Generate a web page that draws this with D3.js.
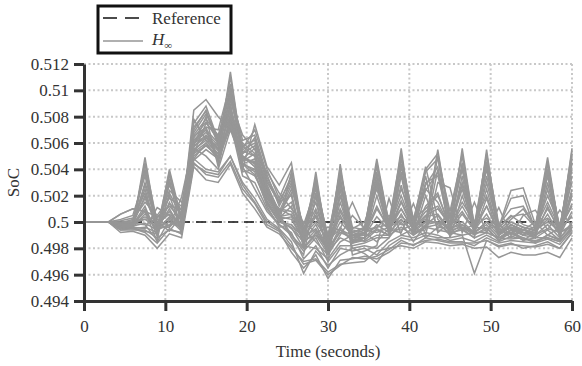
<!DOCTYPE html>
<html>
<head>
<meta charset="utf-8">
<script src="https://cdn.jsdelivr.net/npm/d3@7"></script>
<style>
body { margin: 0; background: #fff; }
svg text { font-family: "Liberation Serif", Tinos, "Nimbus Roman", "Noto Serif", "DejaVu Serif", FreeSerif, Georgia, serif; fill: #333; }
</style>
</head>
<body>
<div id="chart"></div>
<script>
// sample times (seconds)
const time = [0, 1.5, 3, 4.5, 6, 7.5, 9, 10.5, 12, 13.5, 15, 16.5, 18, 19.5, 21, 22.5, 24, 25.5, 27, 28.5,
	30, 31.5, 33, 34.5, 36, 37.5, 39, 40.5, 42, 43.5, 45, 46.5, 48, 49.5, 51, 52.5, 54, 55.5, 57, 58.5, 60];

// reference SoC
const refTime = [0, 60];
const refSoc = [0.5, 0.5];

// H-infinity runs: SoC deviation from 0.5, in units of 1e-4
const socBase = 0.5;
const run01 = [0,0,0, -8,-7,-10,-20,-9,-12, 42,32,30,44,22,10,-4,-9, -20,-30,-28,-38,-32,-31,-30,-22, -20,-18,-20,-15,-16,-18,-17,-20, -19,-27,-23,-25,-25,-23,-27,-12];
const run02 = [0,0,0, -6,-6,-6,-12,-6,-8, 45,36,34,46,25,14,-2,-7, -23,-35,-25,-43,-29,-28,-26,-28, -23,-16,-17,-14,-13,-15,-15,-18, -12,-16,-14,-15,-16,-13,-17,-6];
const run03 = [0,0,0, -5,-5,-4,-8,40,2, 48,40,38,50,30,18,2,-5, -15,-39,-22,-33,-25,-20,-24,-31, -18,-12,-14,-10,-12,-12,-10,-39, -14,-18,-16,-20,-18,-15,-20,-8];
const run04 = [0,0,0, 6,10,8,4,12,2, 85,93,80,70,60,52,38,22, 10,0,-8,-4,-6,-10,-8,-4, -2,4,-3,2,-1,4,-6,-2, 3,-4,24,26,-2,3,-5,4];
const run05 = [0,0,0, -4,-4,49,-5,10,-6, 60,65,55,114,50,42,20,10, 5,-5,5,-10,3,-8,-5,48, -2,10,-6,0,55,-3,8,-6, 12,-8,0,-4,-7,2,-9,56];
const run06 = [0,0,0, -3,-3,30,2,-3,19, 62,70,45,90,40,74,42,28, 45,-10,0,-14,-5,15,-6,-4, 5,-2,0,42,2,-6,-4,-8, 0,-6,-5,-10,-3,49,-8,-4];
const run07 = [0,0,0, -2,0,40,-3,28,8, 48,60,52,95,55,60,30,15, 20,-20,38,-22,44,-15,-12,30, -8,56,-10,20,-5,10,-5,-12, 55,-10,-2,-8,-12,30,-10,20];
const run08 = [0,0,0, -2,-1,-2,-14,33,-10, 58,80,42,80,38,40,25,5, -12,-25,20,-30,25,-20,-18,-20, -12,35,-8,-6,40,-10,56,-4, -5,-14,-8,-12,-15,-10,-14,35];
const run09 = [0,0,0, -1,2,15,5,18,12, 70,85,60,100,62,66,36,12, 30,-5,-15,-25,-10,5,-5,45, -6,-8,14,-10,30,26,-8,15, -8,11,-10,5,9,-6,9,-3];
const run10 = [0,0,0, 1,3,22,-6,-2,0, 52,75,65,85,58,50,24,2, -5,-15,30,-20,35,-25,-22,-18, 18,-10,-5,35,-8,0,40,-10, 45,-12,-6,-14,-8,40,-12,50];
const run11 = [0,0,0, -3,-4,-5,11,5,-3, 65,72,70,105,48,45,15,0, 38,-18,-20,-28,-15,-10,-15,-10, -10,48,0,-4,50,-12,20,-6, 30,-5,-12,-6,0,-10,-4,45];
const run12 = [0,0,0, 2,5,35,-2,24,15, 47,55,48,75,35,30,10,-2, -8,-28,-18,-35,-20,-22,-20,-25, -15,-10,-12,-8,-10,-14,-12,-15, -10,-15,-11,-13,-14,-12,-15,-4];
const run13 = [0,0,0, 6,10,8,-15,2,-7, 75,88,62,92,66,55,28,8, 15,-8,10,-12,20,-5,0,25, -4,25,3,10,20,-2,30,-2, 40,-4,5,-2,-5,20,-2,30];
const run14 = [0,0,0, -1,-2,44,0,-7,5, 78,62,58,110,52,58,22,6, -10,-22,-12,-30,-18,-18,-16,-12, -12,0,-15,-2,5,-8,-10,-8, -8,-12,-13,-12,-16,-10,-13,0];
const run15 = [0,0,0, -4,-5,-7,-9,36,-2, 56,50,40,70,45,38,12,-4, -2,-12,-5,-20,-8,-12,-8,-15, -5,-6,-2,-12,-4,-5,-2,-9, -6,-2,-10,-8,-10,-5,-8,-2];
const run16 = [0,0,0, 0,1,2,3,12,10, 60,68,58,88,44,48,20,5, 25,-2,25,-15,10,-8,-10,10, -4,20,-4,5,10,-2,15,0, 20,-6,2,10,-4,15,-5,12];
const run17 = [0,0,0, -6,-5,-8,-16,-5,-9, 44,38,36,50,28,15,0,-6, -18,-32,-29,-40,-33,-27,-28,-26, -21,-14,-18,-12,-14,-16,-16,-16, -14,-19,-17,-18,-19,-17,-20,-8];
const run18 = [0,0,0, -2,-3,10,-8,15,-4, 54,64,54,82,40,35,18,10, 8,-8,15,-16,30,-14,-8,35, -8,15,-6,25,15,-4,25,-6, 25,-8,-4,-6,-10,25,-8,25];
const run19 = [0,0,0, -3,-2,20,-4,-4,6, 50,58,50,78,42,25,8,-2, -10,-20,-8,-22,-12,-16,-12,-5, -10,-4,-10,-4,-6,-8,-6,-12, -8,-12,-8,-14,-12,-12,-15,-5];
const run20 = [0,0,0, -1,-1,4,-1,6,-1, 66,78,66,98,50,44,22,4, 2,-14,-10,-18,0,-10,-6,-8, -4,2,-8,0,0,-5,0,-8, 0,-10,-4,-10,-6,0,-6,5];
const run21 = [0,0,0, -2,-2,25,-7,20,-5, 62,72,48,88,46,52,26,8, 28,-12,22,-18,28,-10,-10,38, -6,42,-4,30,35,-4,45,-8, 35,-6,-4,-8,-8,35,-10,40];
const run22 = [0,0,0, -3,-1,38,-9,30,3, 57,66,56,96,52,64,32,14, 35,-6,30,-12,38,-4,-6,42, -2,50,2,38,48,8,50,-2, 50,-2,10,12,-4,44,-6,52];
const run23 = [0,0,0, -1,0,18,-3,8,-3, 53,60,47,72,44,40,18,3, 12,-16,8,-20,15,-12,-12,20, -8,28,-8,12,22,-6,28,-8, 18,-10,-2,-6,-10,12,-8,22];
const run24 = [0,0,0, -2,-2,12,-11,22,4, 64,76,62,84,48,56,28,6, 22,-18,32,-24,20,-16,-14,28, -10,38,-6,28,42,-8,35,-10, 42,-8,-8,-4,-12,38,-12,45];
const run25 = [0,0,0, -4,-3,45,-5,38,-1, 68,82,64,102,56,70,40,18, 40,-10,34,-16,40,-8,-4,44, 0,52,-2,40,52,4,52,-6, 52,-4,18,20,-6,46,-8,54];
const run26 = [0,0,0, -2,-4,6,-2,-4,8, 55,62,52,76,48,46,14,0, -4,-20,-10,-24,-6,-14,-14,-6, -10,6,-10,-2,0,-10,-4,-10, -4,-14,-6,-10,-12,-6,-14,-4];
const run27 = [0,0,0, -3,-3,-1,-6,3,-5, 58,64,56,80,50,42,16,2, 4,-14,-2,-20,5,-12,-10,4, -6,10,-6,4,6,-6,6,-6, 6,-10,-2,-6,-8,6,-10,8];
const run28 = [0,0,0, -2,-1,2,-4,0,-4, 52,58,50,74,44,36,14,0, -2,-16,-6,-22,-4,-14,-12,-2, -8,2,-8,-4,-2,-8,-2,-8, -2,-12,-6,-8,-10,-2,-12,-2];
const run29 = [0,0,0, -1,0,28,-2,14,7, 72,84,58,94,58,62,34,16, 32,-8,26,-10,32,-6,-8,32, -4,44,0,24,38,2,42,-4, 46,-4,4,6,-4,40,-4,48];
const run30 = [0,0,0, -2,-2,8,-6,4,-6, 60,70,60,86,54,50,20,4, 6,-12,4,-18,8,-10,-8,12, -6,16,-4,8,12,-4,12,-4, 12,-8,0,-4,-6,10,-6,14];
const runs = [run01, run02, run03, run04, run05, run06, run07, run08, run09, run10,
	run11, run12, run13, run14, run15, run16, run17, run18, run19, run20,
	run21, run22, run23, run24, run25, run26, run27, run28, run29, run30];

// ticks
const xTicks = [0, 10, 20, 30, 40, 50, 60];
const yTicks = [0.494, 0.496, 0.498, 0.5, 0.502, 0.504, 0.506, 0.508, 0.51, 0.512];
const yTickLabels = ["0.494", "0.496", "0.498", "0.5", "0.502", "0.504", "0.506", "0.508", "0.51", "0.512"];

const width = 582, height = 366;
const margin = {top: 64, right: 10, bottom: 65, left: 84};
const w = width - margin.left - margin.right,
	h = height - margin.top - margin.bottom;
const serif = "'Liberation Serif', Tinos, 'Nimbus Roman', 'Noto Serif', 'DejaVu Serif', FreeSerif, Georgia, serif";

const svg = d3.select("#chart")
	.append("svg")
		.attr("width", width)
		.attr("height", height);

const g = svg.append("g")
	.attr("transform", "translate(" + margin.left + "," + margin.top + ")");

const x = d3.scaleLinear().domain([0, 60]).range([0, w]);
const y = d3.scaleLinear().domain([0.494, 0.512]).range([h, 0]);

// dotted grid
g.append("g")
	.selectAll("line")
	.data(xTicks.slice(1))
	.join("line")
		.attr("x1", d => x(d)).attr("x2", d => x(d))
		.attr("y1", 0).attr("y2", h)
		.attr("stroke", "#c8c8c8")
		.attr("stroke-width", 2)
		.attr("stroke-dasharray", "2,2.5");
g.append("g")
	.selectAll("line")
	.data(yTicks.slice(1))
	.join("line")
		.attr("x1", 0).attr("x2", w)
		.attr("y1", d => y(d)).attr("y2", d => y(d))
		.attr("stroke", "#c8c8c8")
		.attr("stroke-width", 2)
		.attr("stroke-dasharray", "2,2.5");

// reference line
g.append("path")
	.datum(refTime.map((t, i) => [t, refSoc[i]]))
	.attr("fill", "none")
	.attr("stroke", "#111")
	.attr("stroke-width", 1.3)
	.attr("stroke-dasharray", "10,6")
	.attr("d", d3.line().x(d => x(d[0])).y(d => y(d[1])));

// H-infinity runs
const line = d3.line()
	.x((d, i) => x(time[i]))
	.y(d => y(socBase + d * 1e-4));
g.append("g")
	.selectAll("path")
	.data(runs)
	.join("path")
		.attr("fill", "none")
		.attr("stroke", "#969696")
		.attr("stroke-width", 1.5)
		.attr("d", line);

// axes
const xAxis = g.append("g")
	.attr("transform", "translate(0," + h + ")")
	.call(d3.axisBottom(x).tickValues(xTicks).tickSize(10).tickSizeOuter(0).tickPadding(9));
const yAxis = g.append("g")
	.call(d3.axisLeft(y).tickValues(yTicks).tickFormat((d, i) => yTickLabels[i]).tickSize(10).tickSizeOuter(0).tickPadding(5));
[xAxis, yAxis].forEach(a => {
	a.attr("font-family", null);
	a.select(".domain").attr("stroke", "#333").attr("stroke-width", 3);
	a.selectAll(".tick line").attr("stroke", "#333").attr("stroke-width", 3);
	a.selectAll(".tick text")
		.attr("fill", "#333")
		.style("font-size", "17px");
});

// axis titles
svg.append("text")
	.attr("x", margin.left + w / 2)
	.attr("y", 357)
	.attr("text-anchor", "middle")
	.style("font-size", "17px")
	.text("Time (seconds)");
svg.append("text")
	.attr("transform", "translate(19," + (margin.top + h / 2) + ") rotate(-90)")
	.attr("text-anchor", "middle")
	.style("font-size", "17px")
	.text("SoC");

// legend
const legend = svg.append("g");
legend.append("rect")
	.attr("x", 98).attr("y", 6)
	.attr("width", 133).attr("height", 47)
	.attr("fill", "#fff")
	.attr("stroke", "#111")
	.attr("stroke-width", 3);
legend.append("line")
	.attr("x1", 103).attr("x2", 143)
	.attr("y1", 18).attr("y2", 18)
	.attr("stroke", "#111")
	.attr("stroke-width", 1.3)
	.attr("stroke-dasharray", "14,8");
legend.append("text")
	.attr("x", 152).attr("y", 24)
	.style("font-size", "17px")
	.text("Reference");
legend.append("line")
	.attr("x1", 103).attr("x2", 143)
	.attr("y1", 41).attr("y2", 41)
	.attr("stroke", "#969696")
	.attr("stroke-width", 1.5);
const hinf = legend.append("text")
	.attr("x", 152).attr("y", 45)
	.style("font-size", "17px");
hinf.append("tspan").style("font-style", "italic").text("H");
hinf.append("tspan").attr("dy", 4).style("font-size", "11px").text("∞");
</script>
</body>
</html>
